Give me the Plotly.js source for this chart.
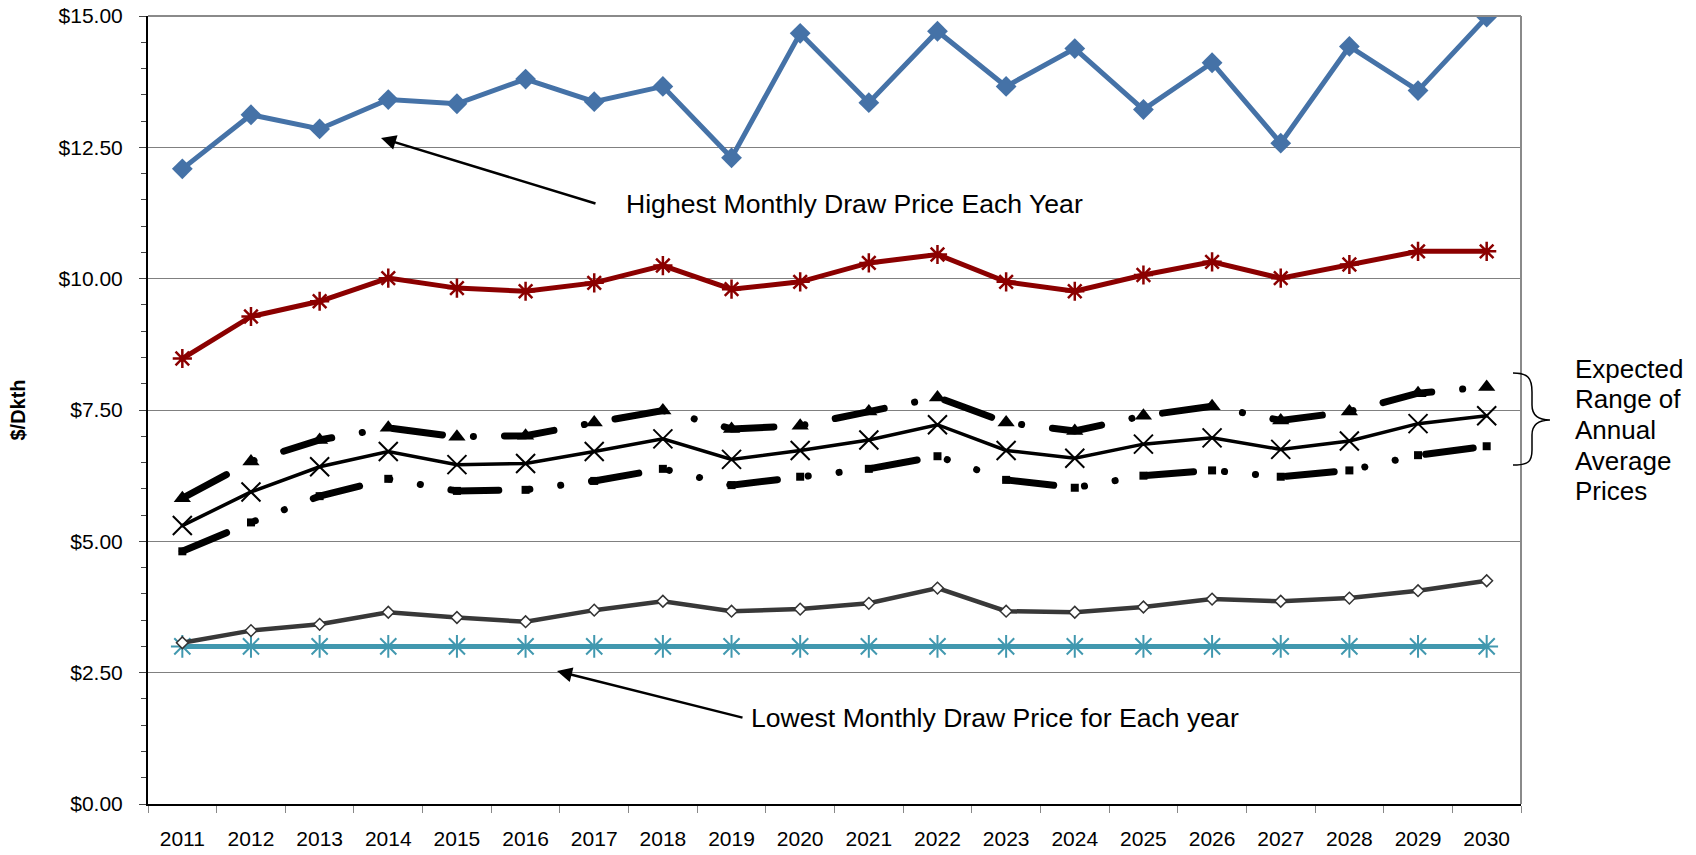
<!DOCTYPE html>
<html>
<head>
<meta charset="utf-8">
<script src="https://cdn.plot.ly/plotly-3.0.1.min.js"></script>
<style>
  html, body { margin: 0; padding: 0; background: #fff; }
  #chart { width: 1696px; height: 855px; }
  .js-line { stroke-linecap: round; }
</style>
</head>
<body>
<div id="chart"></div>
<script>
const years = ['2011','2012','2013','2014','2015','2016','2017','2018','2019','2020',
               '2021','2022','2023','2024','2025','2026','2027','2028','2029','2030'];

const highestMonthly = [12.09, 13.12, 12.85, 13.41, 13.33, 13.80, 13.37, 13.66, 12.30, 14.67,
                        13.35, 14.71, 13.66, 14.38, 13.22, 14.11, 12.58, 14.42, 13.58, 14.98];
const highScenario   = [8.48, 9.28, 9.57, 10.01, 9.82, 9.76, 9.92, 10.25, 9.80, 9.94,
                        10.30, 10.46, 9.94, 9.76, 10.07, 10.32, 10.01, 10.27, 10.52, 10.52];
const upperExpected  = [5.82, 6.52, 6.93, 7.16, 6.99, 7.01, 7.26, 7.49, 7.14, 7.20,
                        7.47, 7.74, 7.26, 7.10, 7.39, 7.57, 7.30, 7.47, 7.82, 7.94];
const baseExpected   = [5.30, 5.94, 6.42, 6.71, 6.46, 6.48, 6.71, 6.95, 6.56, 6.73,
                        6.93, 7.22, 6.73, 6.58, 6.85, 6.97, 6.75, 6.91, 7.24, 7.39];
const lowerExpected  = [4.81, 5.36, 5.86, 6.19, 5.96, 5.98, 6.15, 6.38, 6.07, 6.23,
                        6.38, 6.62, 6.17, 6.02, 6.25, 6.35, 6.23, 6.35, 6.64, 6.81];
const lowScenario    = [3.07, 3.30, 3.42, 3.65, 3.55, 3.47, 3.69, 3.86, 3.67, 3.71,
                        3.82, 4.11, 3.67, 3.65, 3.75, 3.90, 3.86, 3.92, 4.06, 4.25];
const lowestMonthly  = [3.00, 3.00, 3.00, 3.00, 3.00, 3.00, 3.00, 3.00, 3.00, 3.00,
                        3.00, 3.00, 3.00, 3.00, 3.00, 3.00, 3.00, 3.00, 3.00, 3.00];

const rangeLabelLines = ['Expected', 'Range of', 'Annual', 'Average', 'Prices'];
const highestLabel = 'Highest Monthly Draw Price Each Year';
const lowestLabel = 'Lowest Monthly Draw Price for Each year';
const yTitle = '$/Dkth';

// layout geometry (pixels in 1696x855 page)
const W = 1696, H = 855;
const L = 148, R = 1521, T = 16, B = 804;
const px = x => (x - L) / (R - L);
const py = y => (B - y) / (B - T);

const FONT = '"Liberation Sans", Arial, Helvetica, sans-serif';

const traces = [
  { x: years, y: lowestMonthly, mode: 'lines+markers',
    line: { color: '#4198AF', width: 5 },
    marker: { symbol: 'asterisk-open', size: 19, line: { color: '#4198AF', width: 2 } } },
  { x: years, y: lowScenario, mode: 'lines+markers',
    line: { color: '#383838', width: 4.5 },
    marker: { symbol: 'diamond', size: 9, color: '#ffffff', line: { color: '#333333', width: 1.5 } } },
  { x: years, y: lowerExpected, mode: 'lines+markers',
    line: { color: '#000000', width: 7, dash: '48px,31px,0.1px,31px,0.1px,31px' },
    marker: { symbol: 'square', size: 8, color: '#000000' } },
  { x: years, y: baseExpected, mode: 'lines+markers',
    line: { color: '#000000', width: 3.5 },
    marker: { symbol: 'x-thin-open', size: 19, line: { color: '#000000', width: 2 } } },
  { x: years, y: upperExpected, mode: 'lines+markers',
    line: { color: '#000000', width: 7, dash: '50px,31px,0.1px,31px' },
    marker: { symbol: 'triangle-up', size: 15, color: '#000000' } },
  { x: years, y: highScenario, mode: 'lines+markers',
    line: { color: '#8B0000', width: 5 },
    marker: { symbol: 'asterisk-open', size: 16, line: { color: '#8B0000', width: 2.5 } } },
  { x: years, y: highestMonthly, mode: 'lines+markers',
    line: { color: '#4572A7', width: 5 },
    marker: { symbol: 'diamond', size: 16, color: '#4572A7' } }
];

const annotations = [
  // arrows
  { xref: 'paper', yref: 'paper', x: px(381), y: py(138), ax: 216, ay: 66,
    text: '', showarrow: true, arrowhead: 2, arrowsize: 1.2, arrowwidth: 2.5, arrowcolor: '#000' },
  { xref: 'paper', yref: 'paper', x: px(557), y: py(671), ax: 187, ay: 47,
    text: '', showarrow: true, arrowhead: 2, arrowsize: 1.2, arrowwidth: 2.5, arrowcolor: '#000' },
  { xref: 'paper', yref: 'paper', x: px(624), y: py(204), xanchor: 'left', yanchor: 'middle',
    text: highestLabel, showarrow: false, font: { family: FONT, size: 26.6, color: '#000' } },
  { xref: 'paper', yref: 'paper', x: px(749), y: py(718), xanchor: 'left', yanchor: 'middle',
    text: lowestLabel, showarrow: false, font: { family: FONT, size: 26.6, color: '#000' } }
];
const lineCenters = [369, 399, 430, 461, 491];
rangeLabelLines.forEach((t, i) => {
  annotations.push({ xref: 'paper', yref: 'paper', x: px(1573), y: py(lineCenters[i]),
    xanchor: 'left', yanchor: 'middle', text: t, showarrow: false,
    font: { family: FONT, size: 26, color: '#000' } });
});

const bp = (x, y) => px(x).toFixed(5) + ',' + py(y).toFixed(5);
const bracePath = 'M ' + bp(1513, 373) +
  ' C ' + bp(1528, 373) + ' ' + bp(1532, 378) + ' ' + bp(1532, 392) +
  ' L ' + bp(1532, 405) +
  ' C ' + bp(1532, 416) + ' ' + bp(1540, 420) + ' ' + bp(1550, 420) +
  ' C ' + bp(1540, 420) + ' ' + bp(1532, 424) + ' ' + bp(1532, 435) +
  ' L ' + bp(1532, 450) +
  ' C ' + bp(1532, 462) + ' ' + bp(1528, 465) + ' ' + bp(1513, 465);

const shapes = [
  { type: 'line', xref: 'paper', yref: 'paper', x0: 0, x1: 1, y0: 1, y1: 1,
    line: { color: '#8a8a8a', width: 2 } },
  { type: 'line', xref: 'paper', yref: 'paper', x0: 1, x1: 1, y0: 0, y1: 1,
    line: { color: '#8a8a8a', width: 2 } },
  { type: 'path', xref: 'paper', yref: 'paper', path: bracePath,
    line: { color: '#000', width: 1.5 } }
];

const layout = {
  width: W, height: H,
  margin: { l: L, r: W - R, t: T, b: H - B, pad: 0 },
  paper_bgcolor: '#ffffff', plot_bgcolor: '#ffffff',
  showlegend: false,
  font: { family: FONT, size: 21, color: '#000' },
  xaxis: {
    type: 'category', range: [-0.5, 19.5],
    showline: true, linecolor: '#000', linewidth: 2,
    ticks: 'outside', tickson: 'boundaries', ticklen: 7, tickcolor: '#888', tickwidth: 1,
    showgrid: false, zeroline: false, fixedrange: true,
    tickfont: { family: FONT, size: 21, color: '#000' }, ticklabelstandoff: 15
  },
  yaxis: {
    range: [0, 15], dtick: 2.5, tick0: 0,
    tickprefix: '$', tickformat: '.2f',
    showline: true, linecolor: '#000', linewidth: 2,
    ticks: 'outside', ticklen: 7, tickcolor: '#444', tickwidth: 1,
    minor: { dtick: 0.5, ticks: 'outside', ticklen: 5, tickcolor: '#444', tickwidth: 1, showgrid: false },
    showgrid: true, gridcolor: '#808080', gridwidth: 1,
    zeroline: false, fixedrange: true,
    tickfont: { family: FONT, size: 21, color: '#000' }, ticklabelstandoff: 12,
    title: { text: yTitle, font: { family: FONT, size: 20, color: '#000', weight: 'bold' }, standoff: 28 }
  },
  annotations: annotations,
  shapes: shapes
};

Plotly.newPlot('chart', traces, layout, { displayModeBar: false, staticPlot: true });
</script>
</body>
</html>
